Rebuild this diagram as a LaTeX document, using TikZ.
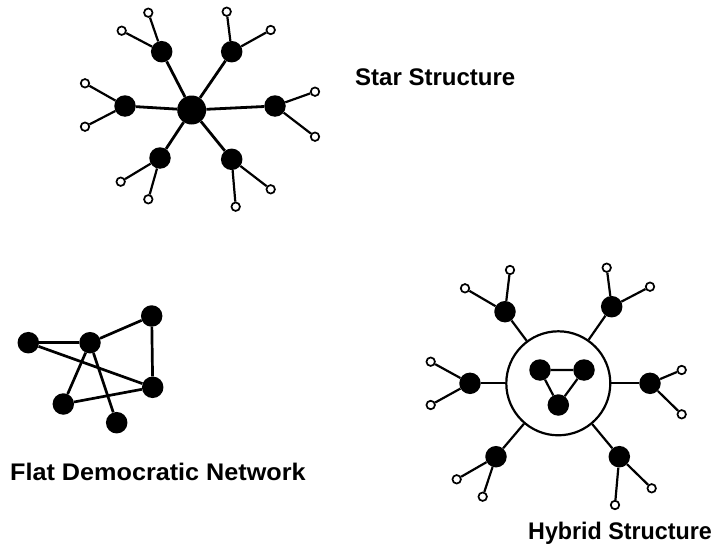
\documentclass[tikz,border=0pt]{standalone}
\usepackage{fontspec}
\setmainfont{Liberation Sans}
\begin{document}
\begin{tikzpicture}[x=1pt,y=-1pt,
  hub/.style={circle,fill=black,inner sep=0pt,minimum size=29pt},
  dot/.style={circle,fill=black,inner sep=0pt,minimum size=21.5pt},
  leaf/.style={circle,draw=black,fill=white,line width=1.7pt,inner sep=0pt,minimum size=8.5pt},
  spoke/.style={line width=2.8pt},
  twig/.style={line width=2.2pt},
  tie/.style={line width=2.7pt},
  caption/.style={font=\bfseries\fontsize{24}{28}\selectfont,inner sep=0pt}]
\useasboundingbox (0,0) rectangle (716,554);

% ---- star structure ----
\node[hub] (sc) at (191.7,110) {};
\node[dot] (s1) at (161.7,51.7) {};
\node[dot] (s2) at (231.7,51.7) {};
\node[dot] (s3) at (125,106) {};
\node[dot] (s4) at (275,106) {};
\node[dot] (s5) at (160,158) {};
\node[dot] (s6) at (231.7,159.3) {};
\node[leaf] (s1a) at (148.3,12.7) {};
\node[leaf] (s1b) at (121.7,30.7) {};
\node[leaf] (s2a) at (226.7,11.7) {};
\node[leaf] (s2b) at (270.7,30) {};
\node[leaf] (s3a) at (85,83.3) {};
\node[leaf] (s3b) at (85,126.7) {};
\node[leaf] (s4a) at (315,91.7) {};
\node[leaf] (s4b) at (315,136.7) {};
\node[leaf] (s5a) at (120.7,181.7) {};
\node[leaf] (s5b) at (148.3,199.3) {};
\node[leaf] (s6a) at (270.7,189.3) {};
\node[leaf] (s6b) at (235.7,206.7) {};
\foreach \i in {1,...,6} {
  \draw[spoke] (sc) -- (s\i);
  \draw[twig] (s\i) -- (s\i a);
  \draw[twig] (s\i) -- (s\i b);
}
\node[caption,anchor=west] (st) at (355,77.5) {Star Structure};

% ---- flat democratic network ----
\node[dot] (fa) at (28.3,342.7) {};
\node[dot] (fb) at (90,342.7) {};
\node[dot] (fc) at (151.7,316) {};
\node[dot] (fd) at (152.7,387.3) {};
\node[dot] (fe) at (63.3,404) {};
\node[dot] (ff) at (116.7,422.7) {};
\draw[tie] (fa) -- (fb);
\draw[tie] (fb) -- (fc);
\draw[tie] (fc) -- (fd);
\draw[tie] (fa) -- (fd);
\draw[tie] (fb) -- (fe);
\draw[tie] (fb) -- (ff);
\draw[tie] (fe) -- (fd);
\node[caption,anchor=west,xscale=1.05] (ft) at (10,472) {Flat Democratic Network};

% ---- hybrid structure ----
\node[circle,draw=black,line width=2.2pt,inner sep=0pt,minimum size=104pt] (hc) at (558.3,383.3) {};
\node[dot] (k1) at (540,370) {};
\node[dot] (k2) at (584,370) {};
\node[dot] (k3) at (558.3,405) {};
\draw[twig] (k1) -- (k2) -- (k3) -- (k1);
\node[dot] (h1) at (505,311.7) {};
\node[dot] (h2) at (611.7,306.7) {};
\node[dot] (h3) at (470,383.3) {};
\node[dot] (h4) at (650,383.3) {};
\node[dot] (h5) at (496,456.7) {};
\node[dot] (h6) at (619.3,456.7) {};
\node[leaf] (h1a) at (510,270) {};
\node[leaf] (h1b) at (465,288.3) {};
\node[leaf] (h2a) at (606.7,267.7) {};
\node[leaf] (h2b) at (650,286.7) {};
\node[leaf] (h3a) at (430.7,361.7) {};
\node[leaf] (h3b) at (430.7,405) {};
\node[leaf] (h4a) at (681.7,370) {};
\node[leaf] (h4b) at (681.7,414.3) {};
\node[leaf] (h5a) at (456.7,479.3) {};
\node[leaf] (h5b) at (482.7,496.7) {};
\node[leaf] (h6a) at (651.7,488.3) {};
\node[leaf] (h6b) at (615,505) {};
\foreach \i in {1,...,6} {
  \draw[twig] (hc) -- (h\i);
  \draw[twig] (h\i) -- (h\i a);
  \draw[twig] (h\i) -- (h\i b);
}
\node[caption,anchor=west,xscale=0.97] (ht) at (528,533) {Hybrid Structure};
\end{tikzpicture}
\end{document}
